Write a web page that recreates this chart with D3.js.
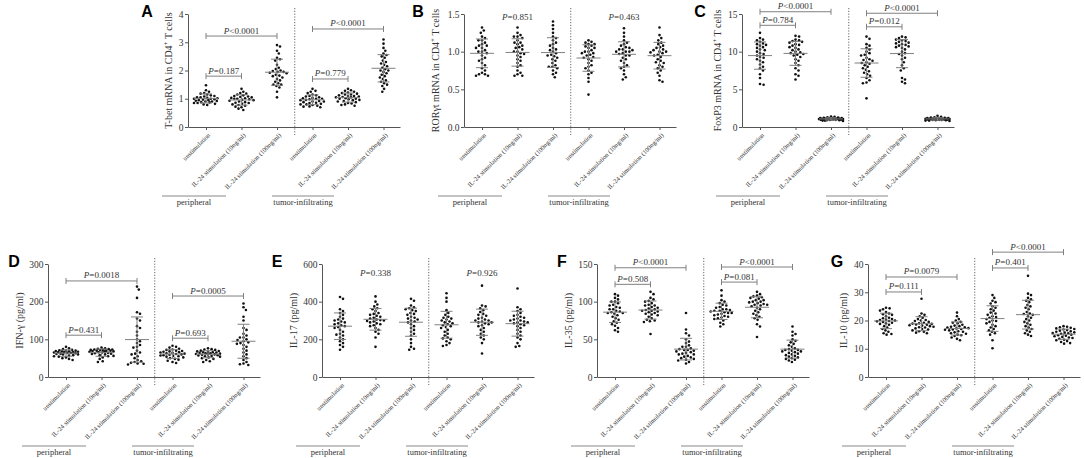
<!DOCTYPE html>
<html lang="en">
<head>
    <meta charset="UTF-8">
    <title>IL-24 stimulation scatter plots</title>
    <script type="text/javascript" src="https://cdn.jsdelivr.net/npm/d3@7/dist/d3.min.js"></script>
    <style>
        body {
            margin: 0;
            background: #fff;
        }
        svg text {
            font-family: "Liberation Serif", "Times New Roman", serif;
        }
        .panel-letter {
            font-family: "Liberation Sans", Arial, sans-serif !important;
            font-weight: bold;
            font-size: 16px;
        }
    </style>
</head>
<body>
    <div id="chart"></div>

    <script>
        // group and site labels
        const groupLabels = ["unstimulation", "IL-24 stimulation (10ng/ml)", "IL-24 stimulation (100ng/ml)"];
        const siteLabels = ["peripheral", "tumor-infiltrating"];

        // A: T-bet mRNA, six groups (3 peripheral, 3 tumor-infiltrating)
        const tbet = [
            [1.48, 1.3, 1.25, 1.2, 1.18, 1.15, 1.12, 1.1, 1.08, 1.05, 1.05, 1.02, 1.0, 1.0, 0.98, 0.97, 0.95, 0.95, 0.93, 0.92, 0.9, 0.9, 0.88, 0.87, 0.85, 0.85, 0.82, 0.8, 0.78, 1.03],
            [1.35, 1.25, 1.2, 1.18, 1.15, 1.12, 1.1, 1.08, 1.06, 1.05, 1.03, 1.0, 1.0, 0.98, 0.96, 0.95, 0.93, 0.9, 0.88, 0.86, 0.85, 0.82, 0.8, 0.78, 0.75, 0.72, 0.7, 0.65, 0.6, 1.02],
            [2.9, 2.85, 2.7, 2.6, 2.45, 2.4, 2.35, 2.2, 2.1, 2.05, 2.0, 1.98, 1.95, 1.95, 1.92, 1.9, 1.85, 1.82, 1.8, 1.75, 1.7, 1.65, 1.6, 1.55, 1.5, 1.5, 1.45, 1.4, 1.25, 1.05],
            [1.35, 1.28, 1.25, 1.2, 1.15, 1.12, 1.1, 1.08, 1.05, 1.02, 1.0, 1.0, 0.98, 0.96, 0.95, 0.92, 0.9, 0.9, 0.88, 0.86, 0.85, 0.82, 0.8, 0.8, 0.78, 0.75, 0.73, 0.72, 0.7, 1.03],
            [1.35, 1.3, 1.28, 1.25, 1.22, 1.2, 1.18, 1.15, 1.15, 1.12, 1.1, 1.1, 1.08, 1.06, 1.05, 1.05, 1.02, 1.0, 1.0, 0.98, 0.96, 0.95, 0.92, 0.9, 0.88, 0.85, 0.83, 0.8, 0.78, 0.75],
            [3.1, 2.95, 2.8, 2.7, 2.6, 2.55, 2.5, 2.45, 2.35, 2.3, 2.25, 2.2, 2.15, 2.1, 2.05, 2.0, 2.0, 1.95, 1.9, 1.85, 1.8, 1.75, 1.7, 1.65, 1.6, 1.55, 1.5, 1.45, 1.35, 1.25]
        ];
        const tbetTicks = [0, 1, 2, 3, 4];
        const tbetP = [[0, 1, "=0.187", 1.8], [0, 2, "<0.0001", 3.22], [3, 4, "=0.779", 1.7], [3, 5, "<0.0001", 3.47]];

        // B: RORγt mRNA
        const rorgt = [
            [1.32, 1.28, 1.25, 1.2, 1.18, 1.15, 1.12, 1.1, 1.08, 1.05, 1.05, 1.02, 1.0, 1.0, 0.98, 0.95, 0.92, 0.9, 0.88, 0.85, 0.82, 0.78, 0.75, 0.72, 0.7, 0.7, 0.68, 0.68, 1.15, 1.08],
            [1.32, 1.25, 1.22, 1.2, 1.2, 1.18, 1.15, 1.12, 1.1, 1.08, 1.05, 1.03, 1.0, 1.0, 0.98, 0.95, 0.93, 0.9, 0.88, 0.85, 0.82, 0.8, 0.75, 0.72, 0.7, 0.68, 0.68, 1.12, 1.06, 0.97],
            [1.4, 1.35, 1.3, 1.25, 1.2, 1.18, 1.15, 1.1, 1.08, 1.05, 1.02, 1.0, 0.98, 0.96, 0.95, 0.92, 0.9, 0.88, 0.85, 0.82, 0.8, 0.8, 0.78, 0.75, 0.72, 0.7, 0.66, 1.12, 0.94, 1.03],
            [1.15, 1.13, 1.12, 1.1, 1.08, 1.05, 1.05, 1.02, 1.0, 1.0, 0.98, 0.96, 0.95, 0.93, 0.9, 0.88, 0.85, 0.82, 0.8, 0.78, 0.75, 0.72, 0.7, 0.65, 0.6, 0.43, 1.1, 1.07, 0.98, 0.92],
            [1.31, 1.25, 1.2, 1.15, 1.12, 1.1, 1.08, 1.06, 1.05, 1.03, 1.02, 1.0, 1.0, 0.98, 0.97, 0.95, 0.95, 0.92, 0.9, 0.88, 0.85, 0.82, 0.8, 0.78, 0.75, 0.7, 0.66, 0.63, 1.0, 1.03],
            [1.32, 1.22, 1.18, 1.15, 1.12, 1.1, 1.08, 1.05, 1.03, 1.0, 1.0, 0.98, 0.96, 0.95, 0.93, 0.9, 0.88, 0.86, 0.85, 0.82, 0.8, 0.78, 0.75, 0.72, 0.68, 0.62, 0.6, 1.06, 1.02, 0.99]
        ];
        const rorgtTicks = [0, 0.5, 1.0, 1.5];
        const rorgtP = [[1, 1, "=0.851", 1.42], [4, 4, "=0.463", 1.42]];

        // C: FoxP3 mRNA
        const foxp3 = [
            [12.5, 11.8, 11.6, 11.5, 11.3, 11.0, 10.8, 10.6, 10.5, 10.3, 10.2, 10.0, 9.8, 9.7, 9.5, 9.3, 9.2, 9.0, 8.8, 8.6, 8.3, 8.0, 7.8, 7.5, 7.0, 6.5, 5.7, 5.6, 11.1, 10.9],
            [12.1, 12.0, 11.6, 11.4, 11.3, 11.2, 11.0, 10.8, 10.6, 10.5, 10.3, 10.0, 9.9, 9.8, 9.6, 9.5, 9.3, 9.0, 8.8, 8.5, 8.2, 7.8, 7.5, 7.0, 6.8, 6.3, 11.5, 10.2, 9.7, 10.9],
            [1.4, 1.35, 1.3, 1.25, 1.2, 1.2, 1.15, 1.15, 1.1, 1.1, 1.1, 1.05, 1.05, 1.0, 1.0, 1.0, 0.95, 0.95, 0.9, 0.9, 0.85, 0.85, 0.8, 1.12, 1.08, 1.02, 0.98, 1.18, 1.22, 0.92],
            [12.0, 11.7, 11.0, 10.8, 10.5, 10.3, 10.0, 9.8, 9.5, 9.2, 9.0, 8.8, 8.6, 8.4, 8.2, 8.0, 7.8, 7.6, 7.4, 7.2, 7.0, 6.8, 6.5, 6.2, 5.9, 5.8, 3.8, 9.6, 8.9, 8.5],
            [12.0, 11.9, 11.8, 11.6, 11.5, 11.4, 11.3, 11.2, 11.0, 10.8, 10.6, 10.5, 10.3, 10.0, 9.8, 9.5, 9.2, 9.0, 8.6, 8.2, 7.8, 7.5, 6.5, 6.3, 6.0, 5.8, 11.1, 10.7, 10.9, 9.7],
            [1.5, 1.35, 1.3, 1.25, 1.2, 1.2, 1.15, 1.15, 1.1, 1.1, 1.1, 1.05, 1.05, 1.0, 1.0, 1.0, 0.95, 0.95, 0.9, 0.9, 0.85, 0.85, 0.8, 1.12, 1.08, 1.02, 0.98, 1.18, 1.22, 0.92]
        ];
        const foxp3Ticks = [0, 5, 10, 15];
        const foxp3P = [[0, 2, "<0.0001", 15.3], [0, 1, "=0.784", 13.5], [3, 5, "<0.0001", 15.1], [3, 4, "=0.012", 13.3]];

        // D: IFN-γ (pg/ml)
        const ifng = [
            [80, 76, 74, 72, 71, 70, 70, 69, 68, 67, 66, 66, 65, 64, 64, 63, 62, 61, 60, 60, 58, 57, 55, 54, 52, 50, 48, 45, 68, 66],
            [78, 76, 75, 74, 73, 72, 72, 71, 70, 70, 69, 68, 67, 66, 65, 64, 63, 62, 61, 60, 58, 56, 55, 52, 48, 42, 40, 70, 68, 73],
            [240, 232, 210, 172, 168, 155, 150, 135, 130, 120, 110, 100, 95, 90, 85, 78, 70, 65, 60, 55, 50, 45, 42, 40, 38, 36, 35, 33, 62, 80],
            [83, 80, 78, 75, 73, 72, 70, 68, 67, 65, 64, 63, 62, 61, 60, 58, 57, 55, 54, 52, 50, 48, 46, 43, 40, 37, 66, 59, 69, 56],
            [76, 74, 73, 72, 70, 69, 68, 67, 66, 65, 64, 63, 62, 61, 60, 59, 58, 57, 56, 55, 54, 52, 50, 48, 45, 42, 40, 63, 60, 66],
            [195, 185, 178, 160, 150, 130, 125, 115, 110, 105, 100, 95, 92, 88, 85, 80, 75, 70, 65, 60, 55, 50, 45, 40, 36, 34, 32, 98, 90, 105]
        ];
        const ifngTicks = [0, 100, 200, 300];
        const ifngP = [[0, 2, "=0.0018", 255], [0, 1, "=0.431", 111], [3, 5, "=0.0005", 215], [3, 4, "=0.693", 103]];

        // E: IL-17 (pg/ml)
        const il17 = [
            [425, 415, 360, 350, 340, 330, 320, 310, 300, 295, 290, 285, 280, 275, 270, 260, 250, 240, 230, 220, 210, 200, 190, 180, 170, 160, 145, 305, 265, 225],
            [428, 400, 385, 375, 365, 360, 350, 340, 330, 320, 315, 310, 305, 300, 295, 290, 285, 280, 270, 260, 250, 240, 230, 210, 160, 335, 325, 298, 275, 302],
            [415, 405, 380, 370, 365, 360, 350, 340, 330, 320, 310, 300, 295, 290, 280, 270, 260, 250, 240, 230, 220, 200, 180, 160, 150, 145, 355, 335, 315, 305],
            [445, 420, 400, 355, 340, 330, 320, 310, 300, 290, 285, 280, 275, 270, 260, 250, 240, 230, 220, 210, 205, 200, 190, 180, 170, 165, 315, 295, 265, 305],
            [485, 380, 375, 365, 355, 345, 335, 325, 315, 305, 300, 295, 290, 285, 280, 275, 270, 260, 250, 240, 230, 220, 210, 200, 180, 125, 310, 290, 330, 300],
            [470, 370, 360, 350, 340, 330, 320, 310, 305, 300, 295, 290, 285, 280, 275, 270, 260, 250, 240, 230, 220, 210, 200, 180, 165, 160, 325, 300, 290, 315]
        ];
        const il17Ticks = [0, 200, 400, 600];
        const il17P = [[1, 1, "=0.338", 536], [4, 4, "=0.926", 536]];

        // F: IL-35 (pg/ml)
        const il35 = [
            [110, 108, 105, 103, 100, 98, 96, 95, 93, 92, 90, 88, 87, 86, 85, 84, 82, 80, 78, 76, 74, 72, 70, 68, 65, 62, 60, 90, 85, 100],
            [113, 110, 105, 103, 101, 100, 98, 96, 95, 93, 92, 90, 89, 88, 87, 86, 85, 84, 82, 80, 78, 76, 75, 74, 73, 57, 91, 88, 83, 95],
            [85, 63, 58, 55, 50, 47, 45, 42, 40, 38, 37, 36, 35, 34, 33, 32, 31, 30, 28, 27, 26, 25, 24, 23, 22, 20, 18, 36, 30, 40],
            [115, 108, 102, 100, 98, 96, 95, 93, 92, 90, 89, 88, 87, 86, 85, 85, 84, 83, 82, 81, 80, 79, 78, 77, 75, 72, 70, 67, 88, 90],
            [113, 110, 108, 107, 106, 105, 104, 102, 100, 99, 98, 97, 96, 95, 94, 92, 90, 88, 86, 84, 82, 80, 78, 76, 70, 67, 53, 100, 96, 102],
            [67, 60, 57, 55, 50, 48, 46, 44, 42, 40, 38, 37, 36, 35, 34, 33, 32, 31, 30, 29, 28, 27, 26, 25, 24, 23, 22, 20, 36, 34]
        ];
        const il35Ticks = [0, 50, 100, 150];
        const il35P = [[0, 2, "<0.0001", 145], [0, 1, "=0.508", 123], [3, 5, "<0.0001", 146], [3, 4, "=0.081", 126]];

        // G: IL-10 (pg/ml)
        const il10 = [
            [24.5, 24.3, 24.0, 23.5, 23.0, 22.5, 22.0, 21.5, 21.0, 20.8, 20.5, 20.2, 20.0, 19.8, 19.5, 19.2, 19.0, 18.8, 18.5, 18.0, 17.5, 17.0, 16.5, 16.0, 15.5, 15.2, 15.0, 20.3, 19.7, 22.2],
            [27.7, 22.5, 22.0, 21.5, 21.0, 20.5, 20.2, 20.0, 19.8, 19.5, 19.2, 19.0, 18.8, 18.6, 18.5, 18.3, 18.2, 18.0, 17.8, 17.6, 17.5, 17.2, 17.0, 16.8, 16.5, 16.2, 16.0, 15.7, 15.5, 18.9],
            [22.8, 21.5, 20.5, 20.0, 19.5, 19.2, 19.0, 18.5, 18.2, 18.0, 17.8, 17.5, 17.3, 17.2, 17.0, 16.8, 16.5, 16.2, 16.0, 15.8, 15.5, 15.3, 15.0, 14.8, 14.5, 14.0, 13.5, 13.0, 17.6, 16.7],
            [29.0, 28.0, 27.0, 26.5, 26.0, 25.0, 24.5, 24.0, 23.5, 22.5, 22.0, 21.5, 21.0, 20.5, 20.0, 19.8, 19.5, 19.0, 18.5, 18.0, 17.5, 17.0, 16.5, 16.0, 15.5, 15.0, 13.0, 10.2, 22.8, 21.2],
            [35.8, 29.5, 29.0, 28.0, 27.5, 27.0, 26.5, 25.5, 25.0, 24.5, 24.0, 23.0, 22.5, 22.0, 21.5, 21.0, 20.5, 20.0, 19.5, 19.0, 18.5, 18.0, 17.5, 17.0, 16.5, 16.0, 15.5, 15.0, 14.5, 22.3],
            [18.0, 17.8, 17.6, 17.4, 17.2, 17.0, 16.8, 16.6, 16.4, 16.2, 16.0, 15.8, 15.6, 15.5, 15.3, 15.0, 14.8, 14.6, 14.4, 14.2, 14.0, 13.8, 13.5, 13.2, 13.0, 12.7, 12.4, 12.0, 11.8, 15.7]
        ];
        const il10Ticks = [0, 10, 20, 30, 40];
        const il10P = [[0, 2, "=0.0079", 35.4], [0, 1, "=0.111", 30.1], [3, 5, "<0.0001", 44.2], [3, 4, "=0.401", 38.6]];

        // panel table built from the arrays above (layout lives here)
        const panels = [
            { letter: "A", data: tbet, ticks: tbetTicks, p: tbetP, title: ["T-bet mRNA in CD4", "+", " T cells"], ax: 188, top: 14, lx: 147, fmt: d3.format("d") },
            { letter: "B", data: rorgt, ticks: rorgtTicks, p: rorgtP, title: ["RORγt mRNA in CD4", "+", " T cells"], ax: 464, top: 14, lx: 418, fmt: d3.format(".1f") },
            { letter: "C", data: foxp3, ticks: foxp3Ticks, p: foxp3P, title: ["FoxP3 mRNA in CD4", "+", " T cells"], ax: 742, top: 14, lx: 700, fmt: d3.format("d") },
            { letter: "D", data: ifng, ticks: ifngTicks, p: ifngP, title: ["IFN-γ (pg/ml)"], ax: 48, top: 264, lx: 14, fmt: d3.format("d") },
            { letter: "E", data: il17, ticks: il17Ticks, p: il17P, title: ["IL-17 (pg/ml)"], ax: 322, top: 264, lx: 277, fmt: d3.format("d") },
            { letter: "F", data: il35, ticks: il35Ticks, p: il35P, title: ["IL-35 (pg/ml)"], ax: 597, top: 264, lx: 562, fmt: d3.format("d") },
            { letter: "G", data: il10, ticks: il10Ticks, p: il10P, title: ["IL-10 (pg/ml)"], ax: 868, top: 264, lx: 837, fmt: d3.format("d") }
        ];

        const plotH = 113;
        const plotW = 212;
        const axisColor = "#555";
        const barColor = "#808080";

        const svg = d3.select("#chart")
            .append("svg")
            .attr("width", 1084)
            .attr("height", 458);

        svg.append("rect").attr("width", 1084).attr("height", 458).attr("fill", "#fff");

        // beeswarm kept within +-12px of the group centre; dots may touch when crowded
        function swarm(values, y, cx) {
            const pts = values.map(v => ({ v, py: y(v) })).sort((a, b) => a.py - b.py);
            const placed = [];
            const minD = 3.3;
            const maxOff = 12;
            const offs = [0];
            for (let k = 1; k * 0.6 <= maxOff; k++) offs.push(k * 0.6, -k * 0.6);
            pts.forEach(p => {
                let bestOff = 0, bestD = -1;
                for (const off of offs) {
                    const d = placed.length
                        ? d3.min(placed, q => Math.hypot(q.px - (cx + off), q.py - p.py))
                        : Infinity;
                    if (d >= minD) { bestOff = off; bestD = d; break; }
                    if (d > bestD) { bestD = d; bestOff = off; }
                }
                p.px = cx + bestOff;
                placed.push(p);
            });
            return placed;
        }

        function drawPanel(p) {
            const g = svg.append("g");
            const bottom = p.top + plotH;
            const max = p.ticks[p.ticks.length - 1];
            const y = d3.scaleLinear().domain([0, max]).range([bottom, p.top]);
            const x = d3.scaleLinear().domain([-18 / 35.5, (plotW - 18) / 35.5]).range([p.ax, p.ax + plotW]);

            // panel letter
            g.append("text")
                .attr("class", "panel-letter")
                .attr("x", p.lx)
                .attr("y", p.top + 3)
                .attr("text-anchor", "middle")
                .text(p.letter);

            // y axis
            const yAxis = g.append("g")
                .attr("transform", `translate(${p.ax},0)`)
                .call(d3.axisLeft(y).tickValues(p.ticks).tickSize(3).tickSizeOuter(0).tickPadding(1.5).tickFormat(p.fmt));
            yAxis.select(".domain").attr("stroke", axisColor);
            yAxis.selectAll(".tick line").attr("stroke", axisColor);
            yAxis.selectAll(".tick text")
                .attr("fill", "#333")
                .style("font-family", "'Liberation Serif', serif")
                .style("font-size", "9.5px");

            // x axis
            const xAxis = g.append("g")
                .attr("transform", `translate(0,${bottom})`)
                .call(d3.axisBottom(x).tickValues([0, 1, 2, 3, 4, 5]).tickSize(3).tickSizeOuter(0).tickFormat(""));
            xAxis.select(".domain").attr("stroke", axisColor);
            xAxis.selectAll(".tick line").attr("stroke", axisColor);

            // rotated group labels
            g.selectAll(".xlab")
                .data([0, 1, 2, 3, 4, 5])
                .enter()
                .append("text")
                .attr("transform", i => `translate(${x(i) + 3},${bottom + 7}) rotate(-45)`)
                .attr("text-anchor", "end")
                .attr("dy", "0.35em")
                .attr("fill", "#333")
                .style("font-size", "6.5px")
                .text(i => groupLabels[i % 3]);

            // dotted separator
            g.append("line")
                .attr("x1", x(2.5)).attr("x2", x(2.5))
                .attr("y1", p.top - 6).attr("y2", bottom + 8)
                .attr("stroke", "#666")
                .attr("stroke-dasharray", "1.2,1.6");

            // y title
            const maxChars = d3.max(p.ticks, t => p.fmt(t).length);
            const tx = p.ax - (12 + 4.5 * maxChars);
            const title = g.append("text")
                .attr("transform", `translate(${tx},${(p.top + bottom) / 2}) rotate(-90)`)
                .attr("text-anchor", "middle")
                .attr("fill", "#333")
                .style("font-size", "10px");
            title.append("tspan").text(p.title[0]);
            if (p.title.length > 1) {
                title.append("tspan").attr("dy", -4).style("font-size", "7px").text(p.title[1]);
                title.append("tspan").attr("dy", 4).text(p.title[2]);
            }

            // site labels with lines above
            const sites = [[p.ax - 26, p.ax + 38], [p.ax + 84, p.ax + 146]];
            sites.forEach((s, i) => {
                g.append("line")
                    .attr("x1", s[0]).attr("x2", s[1])
                    .attr("y1", bottom + 69).attr("y2", bottom + 69)
                    .attr("stroke", "#888");
                g.append("text")
                    .attr("x", (s[0] + s[1]) / 2)
                    .attr("y", bottom + 78)
                    .attr("text-anchor", "middle")
                    .attr("fill", "#333")
                    .style("font-size", "8.5px")
                    .text(siteLabels[i]);
            });

            // points, mean and SD
            p.data.forEach((vals, i) => {
                const cx = x(i);
                const pts = swarm(vals, y, cx);
                g.selectAll(null)
                    .data(pts)
                    .enter()
                    .append("circle")
                    .attr("cx", d => d.px)
                    .attr("cy", d => d.py)
                    .attr("r", 1.3)
                    .attr("fill", "#111");

                const m = d3.mean(vals);
                const sd = d3.deviation(vals);
                g.append("line")
                    .attr("x1", cx - 12).attr("x2", cx + 12)
                    .attr("y1", y(m)).attr("y2", y(m))
                    .attr("stroke", barColor);
                g.append("line")
                    .attr("x1", cx).attr("x2", cx)
                    .attr("y1", y(m - sd)).attr("y2", y(m + sd))
                    .attr("stroke", barColor);
                [m - sd, m + sd].forEach(v => {
                    g.append("line")
                        .attr("x1", cx - 6).attr("x2", cx + 6)
                        .attr("y1", y(v)).attr("y2", y(v))
                        .attr("stroke", barColor);
                });
            });

            // P values and brackets
            p.p.forEach(([a, b, label, v]) => {
                const yy = y(v);
                if (a !== b) {
                    g.append("line")
                        .attr("x1", x(a)).attr("x2", x(b))
                        .attr("y1", yy).attr("y2", yy)
                        .attr("stroke", barColor);
                    [a, b].forEach(k => {
                        g.append("line")
                            .attr("x1", x(k)).attr("x2", x(k))
                            .attr("y1", yy - 3).attr("y2", yy + 3)
                            .attr("stroke", barColor);
                    });
                }
                const t = g.append("text")
                    .attr("x", (x(a) + x(b)) / 2)
                    .attr("y", a !== b ? yy - 2.5 : yy)
                    .attr("text-anchor", "middle")
                    .attr("fill", "#333")
                    .style("font-size", "9px");
                t.append("tspan").style("font-style", "italic").text("P");
                t.append("tspan").text(label);
            });
        }

        panels.forEach(drawPanel);
    </script>
</body>
</html>
